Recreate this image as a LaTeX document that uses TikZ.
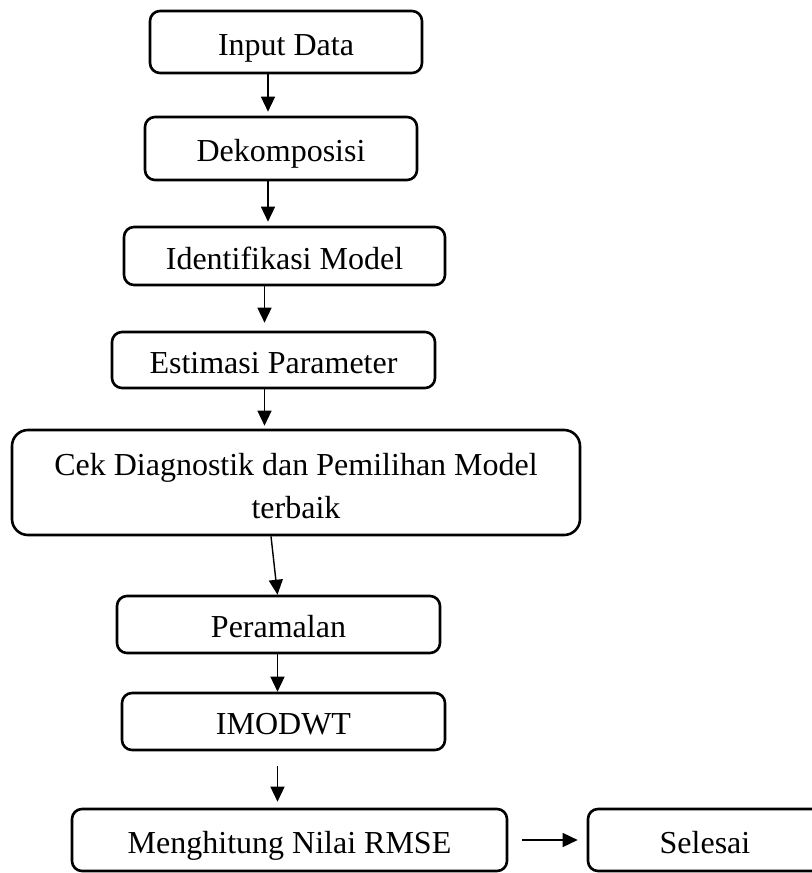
\documentclass[tikz,border=0pt]{standalone}
\usepackage{fontspec}
\setmainfont{Liberation Serif}
\usetikzlibrary{arrows.meta}
\begin{document}
\begin{tikzpicture}[x=0.5pt,y=-0.5pt,
  box/.style={draw, line width=1.3pt, rounded corners=5pt, inner sep=0pt,
    font=\fontsize{16}{21.5}\selectfont, align=center, text height=14pt, text depth=1pt},
  arr/.style={line width=0.7pt, -{Triangle[length=7.5pt,width=7pt]}}]
\useasboundingbox (0,0) rectangle (812,873);
\node[box, minimum width=136pt, minimum height=31pt] (in) at (286,42) {Input Data};
\node[box, minimum width=136pt, minimum height=31.5pt] (dek) at (281,148.5) {Dekomposisi};
\node[box, minimum width=160.5pt, minimum height=29pt] (idm) at (284.5,256) {Identifikasi Model};
\node[box, minimum width=161.5pt, minimum height=28pt] (est) at (273.5,360) {Estimasi Parameter};
\node[box, rounded corners=8pt, text height=35.5pt, text depth=0pt, minimum width=284pt, minimum height=52.5pt] (cek) at (296,482.5) {Cek Diagnostik dan Pemilihan Model\\terbaik};
\node[box, minimum width=161.5pt, minimum height=28.5pt] (per) at (278.5,624.5) {Peramalan};
\node[box, minimum width=161.5pt, minimum height=28.5pt] (imo) at (283.5,721.5) {IMODWT};
\node[box, minimum width=217.5pt, minimum height=31pt] (men) at (289.5,840) {Menghitung Nilai RMSE};
\node[box, minimum width=117pt, minimum height=31pt] (sel) at (705,840) {Selesai};
\coordinate (xa) at (268,0);
\coordinate (xb) at (264.5,0);
\coordinate (xc) at (271,0);
\coordinate (xd) at (277.5,0);
\draw[arr] (in.south -| xa) -- ([yshift=2pt]dek.north -| xa);
\draw[arr] (dek.south -| xa) -- ([yshift=2pt]idm.north -| xa);
\draw[arr] (idm.south -| xb) -- ([yshift=4pt]est.north -| xb);
\draw[arr] (est.south -| xb) -- ([yshift=1.5pt]cek.north -| xb);
\draw[arr] (cek.south -| xc) -- (per.north -| xd);
\draw[arr] (per.south -| xd) -- (imo.north -| xd);
\draw[arr] ([yshift=-7.5pt]imo.south -| xd) -- ([yshift=3pt]men.north -| xd);
\draw[arr] ([xshift=7pt]men.east) -- ([xshift=-4.5pt]sel.west);
\end{tikzpicture}
\end{document}
